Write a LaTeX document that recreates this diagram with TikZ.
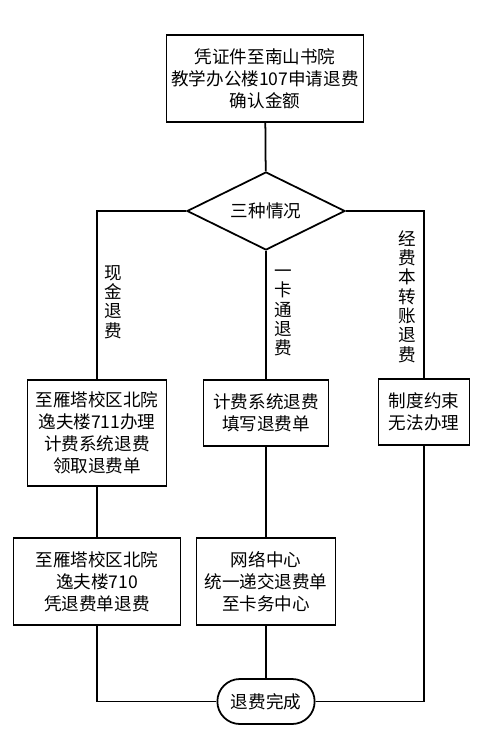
\documentclass[tikz,border=0pt]{standalone}
\usepackage{fontspec}
\newfontfamily\cjk{Noto Sans CJK SC}
\usetikzlibrary{shapes.geometric,shapes.misc}

\begin{document}
\begin{tikzpicture}[line width=1pt,
    every node/.style={font=\cjk\fontsize{10}{12.5}\selectfont, align=center},
    stepbox/.style={rectangle, draw=black, inner sep=2pt},
    choice/.style={diamond, draw=black, aspect=2, inner sep=0pt, minimum width=3.16cm, minimum height=1.56cm},
    endbox/.style={rounded rectangle, draw=black, minimum width=2.18cm, minimum height=0.9cm},
    vtext/.style={font=\cjk\fontsize{10}{11}\selectfont, inner sep=0pt}]
                \useasboundingbox (0, 0) rectangle (10, -14.98);
                \node[stepbox, minimum width=3.94cm, minimum height=1.74cm] (start) at (5.3, -1.57) {凭证件至南山书院\\教学办公楼107申请退费\\确认金额};
                \node[choice] (case) at (5.32, -4.22) {三种情况};
                \node[stepbox, minimum width=2.78cm, minimum height=2.12cm] (cash1) at (1.94, -8.66) {至雁塔校区北院\\逸夫楼711办理\\计费系统退费\\领取退费单};
                \node[stepbox, minimum width=2.5cm, minimum height=1.32cm] (card1) at (5.32, -8.26) {计费系统退费\\填写退费单};
                \node[stepbox, minimum width=1.82cm, minimum height=1.32cm] (none) at (8.48, -8.24) {制度约束\\无法办理};
                \node[stepbox, minimum width=3.34cm, minimum height=1.74cm] (cash2) at (1.94, -11.63) {至雁塔校区北院\\逸夫楼710\\凭退费单退费};
                \node[stepbox, minimum width=2.78cm, minimum height=1.74cm] (card2) at (5.32, -11.63) {网络中心\\统一递交退费单\\至卡务中心};
                \node[endbox] (done) at (5.32, -14.03) {退费完成};
                \node[vtext] (cashlbl) at (2.27, -6.04) {现\\金\\退\\费};
                \node[vtext] (cardlbl) at (5.66, -6.26) {一\\卡\\通\\退\\费};
                \node[vtext] (nonelbl) at (8.14, -5.93) {经\\费\\本\\转\\账\\退\\费};
                \draw (start) -- (case);
                \draw (case.west) -| (cash1.north);
                \draw (case.south) -- (card1.north);
                \draw (case.east) -| (none.north);
                \draw (cash1) -- (cash2);
                \draw (card1) -- (card2);
                \draw (card2) -- (done);
                \draw (cash2.south) |- (done.west);
                \draw (none.south) |- (done.east);
            \end{tikzpicture}
\end{document}
